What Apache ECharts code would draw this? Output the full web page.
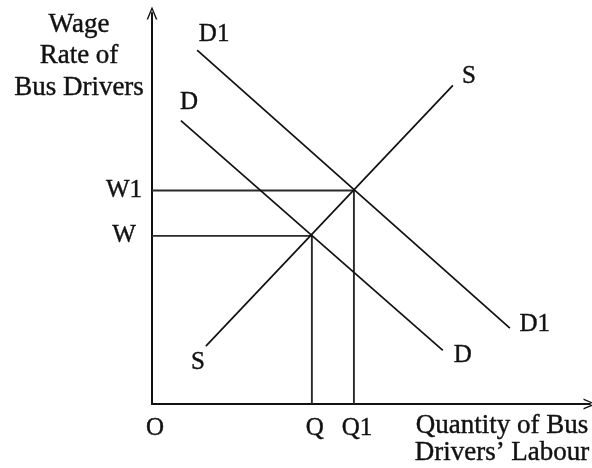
<!DOCTYPE html>
<html>
<head>
<meta charset="utf-8">
<script src="https://cdn.jsdelivr.net/npm/echarts@6/dist/echarts.min.js"></script>
<style>
  html, body { margin: 0; padding: 0; background: #fff; }
  #chart { width: 592px; height: 468px; }
</style>
</head>
<body>
<div id="chart"></div>
<script>
// Bus drivers' labour market: demand shifts from D to D1 along supply S.
const supplyS = [[1.23, 1.48], [6.87, 8.15]];
const demandD = [[0.66, 7.25], [6.64, 1.37]];
const demandD1 = [[1.03, 9.05], [8.17, 1.94]];

// Equilibrium quantities and wages
const quantityTicks = [0, 3.65, 4.61];
const quantityLabels = ['O', 'Q', 'Q1'];
const wageTicks = [4.30, 5.46];
const wageLabels = ['W', 'W1'];

const FONT = '"Liberation Serif", "DejaVu Serif", serif';
const INK = '#111';
const LABEL_SIZE = 25;
const TITLE_SIZE = 27;

function endLabel(text, dx, dy) {
  return {
    show: true,
    formatter: text,
    position: 'inside',
    offset: [dx, dy],
    align: 'center',
    verticalAlign: 'middle',
    fontFamily: FONT,
    fontSize: LABEL_SIZE,
    color: INK,
    textBorderColor: INK,
    textBorderWidth: 0.4
  };
}

function curve(name, pts, startLbl, endLbl) {
  return {
    name: name,
    type: 'line',
    data: [
      { value: pts[0], label: startLbl },
      { value: pts[1], label: endLbl }
    ],
    symbol: 'circle',
    symbolSize: 0.01,
    showSymbol: true,
    lineStyle: { color: INK, width: 1.7 },
    itemStyle: { color: INK },
    silent: true,
    animation: false,
    z: 3
  };
}

// Dropped guide from an equilibrium point to both axes
function guide(q, w) {
  return {
    type: 'line',
    data: [[0, w], [q, w], [q, 0]],
    symbol: 'none',
    lineStyle: { color: '#2a2a2a', width: 1.9 },
    silent: true,
    animation: false,
    z: 2
  };
}

const openArrow = 'path://M0,12 L5,0 L10,12 L8.6,12 L5,3.2 L1.4,12 Z';

const chart = echarts.init(document.getElementById('chart'), null, { renderer: 'canvas' });
chart.setOption({
  backgroundColor: '#fff',
  animation: false,
  grid: { left: 152, right: 2, top: 13, bottom: 64 },
  xAxis: {
    type: 'value',
    min: 0,
    max: 10,
    splitLine: { show: false },
    axisTick: { show: false },
    axisLine: {
      show: true,
      onZero: false,
      symbol: ['none', openArrow],
      symbolSize: [11, 13],
      lineStyle: { color: INK, width: 2 }
    },
    axisLabel: {
      customValues: quantityTicks,
      formatter: v => quantityLabels[quantityTicks.indexOf(v)] ?? '',
      margin: 12,
      padding: [0, 0, 0, 6],
      fontFamily: FONT,
      fontSize: LABEL_SIZE,
      color: INK,
      textBorderColor: INK,
      textBorderWidth: 0.4,
      showMinLabel: true,
      showMaxLabel: true
    }
  },
  yAxis: {
    type: 'value',
    min: 0,
    max: 10,
    splitLine: { show: false },
    axisTick: { show: false },
    axisLine: {
      show: true,
      onZero: false,
      symbol: ['none', openArrow],
      symbolSize: [11, 13],
      lineStyle: { color: INK, width: 2 }
    },
    axisLabel: {
      customValues: wageTicks,
      formatter: v => wageLabels[wageTicks.indexOf(v)] ?? '',
      margin: 28,
      align: 'center',
      padding: [4, 0, 0, 0],
      fontFamily: FONT,
      fontSize: LABEL_SIZE,
      color: INK,
      textBorderColor: INK,
      textBorderWidth: 0.4
    }
  },
  graphic: [
    {
      type: 'text',
      x: 79,
      y: 9,
      style: {
        text: 'Wage\nRate of\nBus Drivers',
        align: 'center',
        verticalAlign: 'top',
        lineHeight: 31.5,
        font: TITLE_SIZE + 'px ' + FONT,
        fill: INK,
        stroke: INK,
        lineWidth: 0.4
      }
    },
    {
      type: 'text',
      x: 502,
      y: 412,
      style: {
        text: 'Quantity of Bus\nDrivers\u2019 Labour',
        align: 'center',
        verticalAlign: 'top',
        lineHeight: 27,
        font: TITLE_SIZE + 'px ' + FONT,
        fill: INK,
        stroke: INK,
        lineWidth: 0.4
      }
    }
  ],
  series: [
    guide(quantityTicks[1], wageTicks[0]),
    guide(quantityTicks[2], wageTicks[1]),
    curve('S', supplyS, endLabel('S', -8, 16), endLabel('S', 16, -9)),
    curve('D', demandD, endLabel('D', 8, -18), endLabel('D', 20, 5)),
    curve('D1', demandD1, endLabel('D1', 17, -16), endLabel('D1', 25, -4))
  ]
});
</script>
</body>
</html>
